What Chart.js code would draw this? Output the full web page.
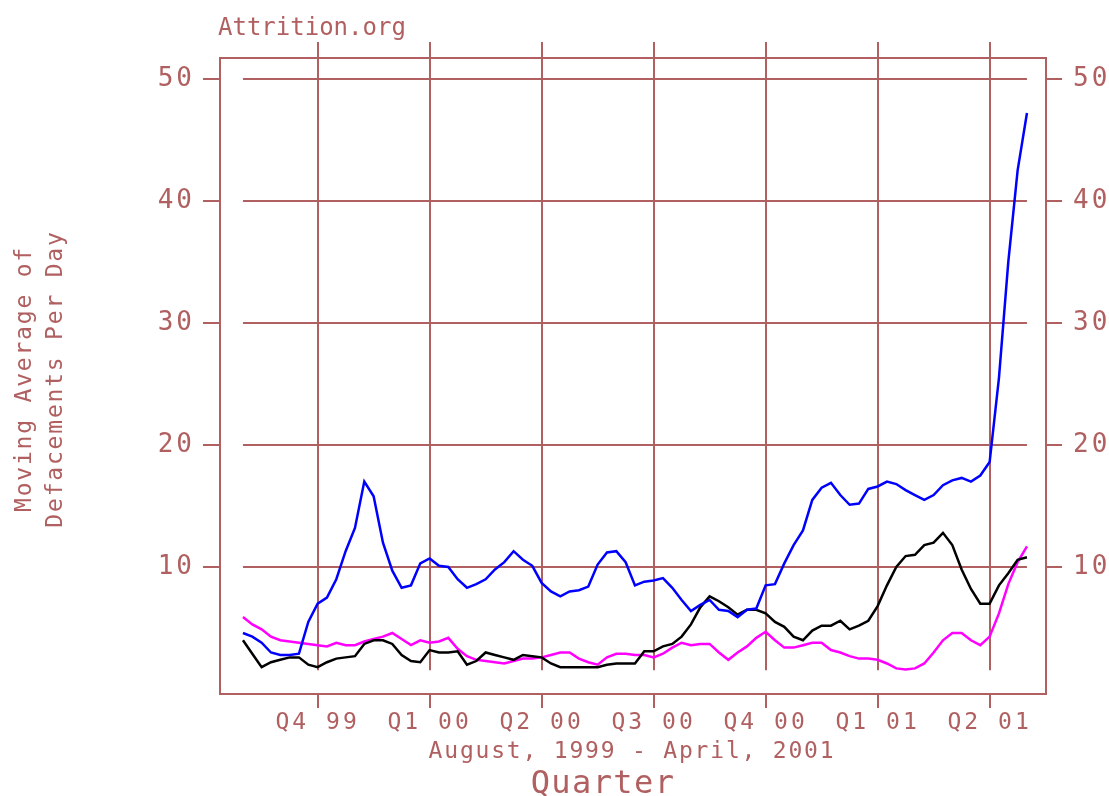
<!DOCTYPE html>
<html>
<head>
<meta charset="utf-8">
<script src="https://cdn.jsdelivr.net/npm/chart.js@4.4.1/dist/chart.umd.min.js"></script>
<style>
  html, body { margin: 0; padding: 0; background: #fff; }
  #wrap { width: 1109px; height: 796px; }
</style>
</head>
<body>
<div id="wrap"><canvas id="defaceChart"></canvas></div>
<script>
// x = twelfths of a quarter since Aug 1, 1999 (one point per ~week)
const blue = [4.6,4.3,3.8,3.0,2.8,2.8,2.9,5.5,7.0,7.5,
  9.0,11.3,13.2,17.0,15.8,12.0,9.7,8.3,8.5,10.3,
  10.7,10.1,10.0,9.0,8.3,8.6,9.0,9.8,10.4,11.3,
  10.6,10.1,8.7,8.0,7.6,8.0,8.1,8.4,10.2,11.2,
  11.3,10.4,8.5,8.8,8.9,9.1,8.3,7.3,6.4,6.9,
  7.3,6.5,6.4,5.9,6.5,6.6,8.5,8.6,10.3,11.8,
  13.0,15.5,16.5,16.9,15.9,15.1,15.2,16.4,16.6,17.0,
  16.8,16.3,15.9,15.5,15.9,16.7,17.1,17.3,17.0,17.5,
  18.6,25.5,35.0,42.5,47.2];
const black = [4.0,2.9,1.8,2.2,2.4,2.6,2.6,2.0,1.8,2.2,
  2.5,2.6,2.7,3.7,4.0,4.0,3.7,2.8,2.3,2.2,
  3.2,3.0,3.0,3.1,2.0,2.3,3.0,2.8,2.6,2.4,
  2.8,2.7,2.6,2.1,1.8,1.8,1.8,1.8,1.8,2.0,
  2.1,2.1,2.1,3.1,3.1,3.5,3.7,4.3,5.3,6.7,
  7.6,7.2,6.7,6.1,6.5,6.5,6.2,5.5,5.1,4.3,
  4.0,4.8,5.2,5.2,5.6,4.9,5.2,5.6,6.8,8.5,
  10.0,10.9,11.0,11.8,12.0,12.8,11.8,9.8,8.2,7.0,
  7.0,8.5,9.5,10.6,10.8];
const magenta = [5.9,5.3,4.9,4.3,4.0,3.9,3.8,3.7,3.6,3.5,
  3.8,3.6,3.6,3.9,4.1,4.3,4.6,4.1,3.6,4.0,
  3.8,3.9,4.2,3.3,2.7,2.4,2.3,2.2,2.1,2.3,
  2.5,2.5,2.6,2.8,3.0,3.0,2.5,2.2,2.0,2.6,
  2.9,2.9,2.8,2.8,2.6,2.9,3.4,3.8,3.6,3.7,
  3.7,3.0,2.4,3.0,3.5,4.2,4.7,4.0,3.4,3.4,
  3.6,3.8,3.8,3.2,3.0,2.7,2.5,2.5,2.4,2.1,
  1.7,1.6,1.7,2.1,3.0,4.0,4.6,4.6,4.0,3.6,
  4.3,6.2,8.6,10.4,11.7];

const quarterTicks = [8, 20, 32, 44, 56, 68, 80];
const quarterLabels = ['Q4 99', 'Q1 00', 'Q2 00', 'Q3 00', 'Q4 00', 'Q1 01', 'Q2 01'];
const yTicks = [10, 20, 30, 40, 50];

const rosy = 'rgb(176,96,96)';
const mono = 'DejaVu Sans Mono';
const xMin = -2.46, xMax = 86.04, yMin = -0.4, yMax = 51.7;

function toPoints(arr) {
  return arr.map((v, i) => ({ x: i, y: v }));
}

function setQuarterTicks(scale) {
  scale.ticks = quarterTicks.map(v => ({ value: v }));
}
function setYTicks(scale) {
  scale.ticks = yTicks.map(v => ({ value: v }));
}

const extras = {
  id: 'extras',
  beforeDraw(chart) {
    chart.ctx.letterSpacing = '3px';
  },
  beforeDatasetsDraw(chart) {
    const { ctx, chartArea, scales: { x, y } } = chart;
    ctx.save();
    ctx.strokeStyle = rosy;
    ctx.lineWidth = 2;
    const x0 = x.getPixelForValue(0), x1 = x.getPixelForValue(blue.length - 1);
    yTicks.forEach(v => {
      const py = Math.round(y.getPixelForValue(v));
      ctx.beginPath(); ctx.moveTo(x0, py); ctx.lineTo(x1, py); ctx.stroke();
    });
    const yb = y.getPixelForValue(1.55);
    quarterTicks.forEach(v => {
      const px = Math.round(x.getPixelForValue(v));
      ctx.beginPath(); ctx.moveTo(px, chartArea.top); ctx.lineTo(px, yb); ctx.stroke();
    });
    ctx.restore();
  },
  afterDraw(chart) {
    const ctx = chart.ctx;
    ctx.save();
    ctx.fillStyle = rosy;
    ctx.textBaseline = 'alphabetic';

    ctx.letterSpacing = '0px';
    ctx.font = '24px "' + mono + '"';
    ctx.textAlign = 'left';
    ctx.fillText('Attrition.org', 218, 35);

    ctx.letterSpacing = '1.8px';
    ctx.font = '23px "' + mono + '"';
    ctx.textAlign = 'center';
    ctx.fillText('August, 1999 - April, 2001', 632, 758);

    ctx.letterSpacing = '1.4px';
    ctx.font = '32px "' + mono + '"';
    ctx.fillText('Quarter', 603, 793);

    ctx.letterSpacing = '1.8px';
    ctx.font = '23px "' + mono + '"';
    ctx.translate(0, 379);
    ctx.rotate(-Math.PI / 2);
    ctx.fillText('Moving Average of', 0, 31);
    ctx.fillText('Defacements Per Day', 0, 62);
    ctx.restore();
  }
};

const axisLine = { display: true, color: rosy, width: 2 };

new Chart(document.getElementById('defaceChart'), {
  type: 'line',
  data: {
    datasets: [
      { data: toPoints(blue), borderColor: '#0000ff', borderWidth: 2.5, pointRadius: 0, tension: 0 },
      { data: toPoints(black), borderColor: '#000000', borderWidth: 2.5, pointRadius: 0, tension: 0 },
      { data: toPoints(magenta), borderColor: '#ff00ff', borderWidth: 2.5, pointRadius: 0, tension: 0 }
    ]
  },
  options: {
    responsive: true,
    maintainAspectRatio: false,
    animation: false,
    layout: { padding: 0 },
    plugins: { legend: { display: false }, tooltip: { enabled: false } },
    scales: {
      x: {
        type: 'linear', position: 'bottom', min: xMin, max: xMax,
        afterBuildTicks: setQuarterTicks,
        afterFit: s => { s.height = 102; },
        ticks: {
          color: rosy, font: { family: mono, size: 23 }, padding: 1,
          autoSkip: false, maxRotation: 0,
          callback: (v, i) => quarterLabels[i]
        },
        grid: { drawOnChartArea: false, tickLength: 14, color: rosy, lineWidth: 2 },
        border: axisLine
      },
      xTop: {
        type: 'linear', position: 'top', min: xMin, max: xMax,
        afterBuildTicks: setQuarterTicks,
        afterFit: s => { s.height = 58; },
        ticks: { display: false },
        grid: { drawOnChartArea: false, tickLength: 16, color: rosy, lineWidth: 2 },
        border: axisLine
      },
      y: {
        position: 'left', min: yMin, max: yMax,
        afterBuildTicks: setYTicks,
        afterFit: s => { s.width = 220; },
        ticks: { color: rosy, font: { family: mono, size: 26 }, padding: 8 },
        grid: { drawOnChartArea: false, tickLength: 17, color: rosy, lineWidth: 2 },
        border: axisLine
      },
      yRight: {
        position: 'right', min: yMin, max: yMax,
        afterBuildTicks: setYTicks,
        afterFit: s => { s.width = 63; },
        ticks: { color: rosy, font: { family: mono, size: 26 }, padding: 11 },
        grid: { drawOnChartArea: false, tickLength: 16, color: rosy, lineWidth: 2 },
        border: axisLine
      }
    }
  },
  plugins: [extras]
});
</script>
</body>
</html>
